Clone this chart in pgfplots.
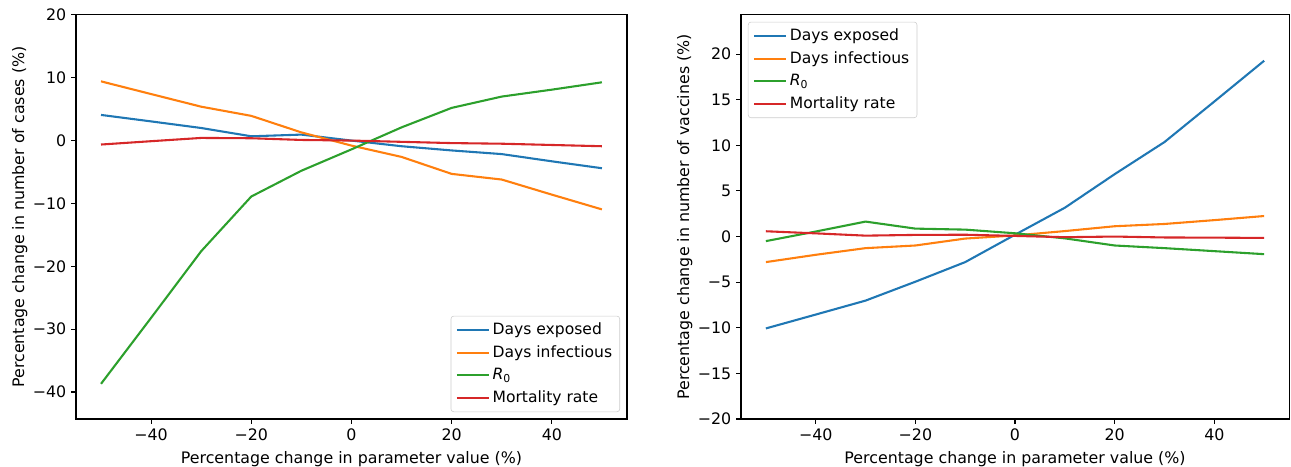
\documentclass[border=0pt]{standalone}
\usepackage{fontspec}
\setmainfont{DejaVu Sans}
\usepackage{pgfplots}
\pgfplotsset{compat=1.18}
\definecolor{tabblue}{HTML}{1F77B4}
\definecolor{taborange}{HTML}{FF7F0E}
\definecolor{tabgreen}{HTML}{2CA02C}
\definecolor{tabred}{HTML}{D62728}
\pgfplotsset{
  mpl/.style={
    scale only axis,
    anchor=south west,
    xmin=-55, xmax=55,
    xtick={-40,-20,0,20,40},
    xticklabels={−40,−20,0,20,40},
    tick pos=left,
    tick align=outside,
    major tick length=3.5pt,
    every tick/.style={black, line width=0.8pt},
    axis line style={line width=0.8pt},
    tick label style={font=\fontsize{11.4}{13.5}\selectfont},
    label style={font=\fontsize{11.4}{13.5}\selectfont},
    xlabel={Percentage change in parameter value (\%)},
    xlabel style={yshift=-0.5pt},
    ylabel style={yshift=-3pt},
    legend cell align=left,
    legend style={draw=black!20, fill=white, fill opacity=0.8, text opacity=1,
      rounded corners=2pt, font=\fontsize{11.2}{13.2}\selectfont,
      inner xsep=3.5pt, inner ysep=3pt, row sep=2.4pt},
    legend image code/.code={\draw[#1,line width=1.5pt] (0pt,0pt) -- (23pt,0pt);},
    every axis plot/.append style={line width=1.5pt, line join=round},
  }
}
\begin{document}
\begin{tikzpicture}
\useasboundingbox (0pt,0pt) rectangle (929.5pt,336.2pt);
\begin{axis}[mpl,
  at={(54.7pt,34.5pt)}, width=396.7pt, height=291pt,
  ymin=-44.3, ymax=20,
  ytick={-40,-30,-20,-10,0,10,20},
  yticklabels={−40,−30,−20,−10,0,10,20},
  ylabel={Percentage change in number of cases (\%)},
  legend style={at={(1,0)}, anchor=south east, xshift=-5pt, yshift=5pt},
]
\addplot[tabblue] coordinates {(-50,4.08) (-40,3.05) (-30,2.0) (-20,0.68) (-10,0.95) (0,0) (10,-0.9) (20,-1.57) (30,-2.15) (40,-3.3) (50,-4.4)};
\addlegendentry{Days exposed}
\addplot[taborange] coordinates {(-50,9.42) (-40,7.4) (-30,5.39) (-20,3.93) (-10,1.3) (0,-0.8) (10,-2.6) (20,-5.3) (30,-6.2) (40,-8.6) (50,-10.95)};
\addlegendentry{Days infectious}
\addplot[tabgreen] coordinates {(-50,-38.7) (-40,-28.2) (-30,-17.6) (-20,-8.9) (-10,-4.8) (0,-1.4) (10,2.1) (20,5.2) (30,7.0) (40,8.1) (50,9.27)};
\addlegendentry{\textit{R}\textsubscript{0}}
\addplot[tabred] coordinates {(-50,-0.63) (-40,-0.1) (-30,0.42) (-20,0.37) (-10,0.1) (0,0) (10,-0.2) (20,-0.4) (30,-0.5) (40,-0.7) (50,-0.9)};
\addlegendentry{Mortality rate}
\end{axis}
\begin{axis}[mpl,
  at={(533.5pt,34.5pt)}, width=394.6pt, height=291pt,
  ymin=-20, ymax=24.3,
  ytick={-20,-15,-10,-5,0,5,10,15,20},
  yticklabels={−20,−15,−10,−5,0,5,10,15,20},
  ylabel={Percentage change in number of vaccines (\%)},
  legend style={at={(0,1)}, anchor=north west, xshift=5pt, yshift=-5pt},
]
\addplot[tabblue] coordinates {(-50,-10.07) (-40,-8.55) (-30,-7.02) (-20,-4.95) (-10,-2.8) (0,0.2) (10,3.16) (20,6.84) (30,10.36) (40,14.8) (50,19.27)};
\addlegendentry{Days exposed}
\addplot[taborange] coordinates {(-50,-2.8) (-40,-2.0) (-30,-1.27) (-20,-0.98) (-10,-0.22) (0,0.12) (10,0.6) (20,1.13) (30,1.38) (40,1.8) (50,2.25)};
\addlegendentry{Days infectious}
\addplot[tabgreen] coordinates {(-50,-0.5) (-40,0.55) (-30,1.64) (-20,0.87) (-10,0.76) (0,0.36) (10,-0.2) (20,-0.98) (30,-1.27) (40,-1.6) (50,-1.93)};
\addlegendentry{\textit{R}\textsubscript{0}}
\addplot[tabred] coordinates {(-50,0.58) (-40,0.35) (-30,0.1) (-20,0.18) (-10,0.2) (0,0.07) (10,-0.07) (20,0) (30,-0.1) (40,-0.12) (50,-0.15)};
\addlegendentry{Mortality rate}
\end{axis}
\end{tikzpicture}
\end{document}
